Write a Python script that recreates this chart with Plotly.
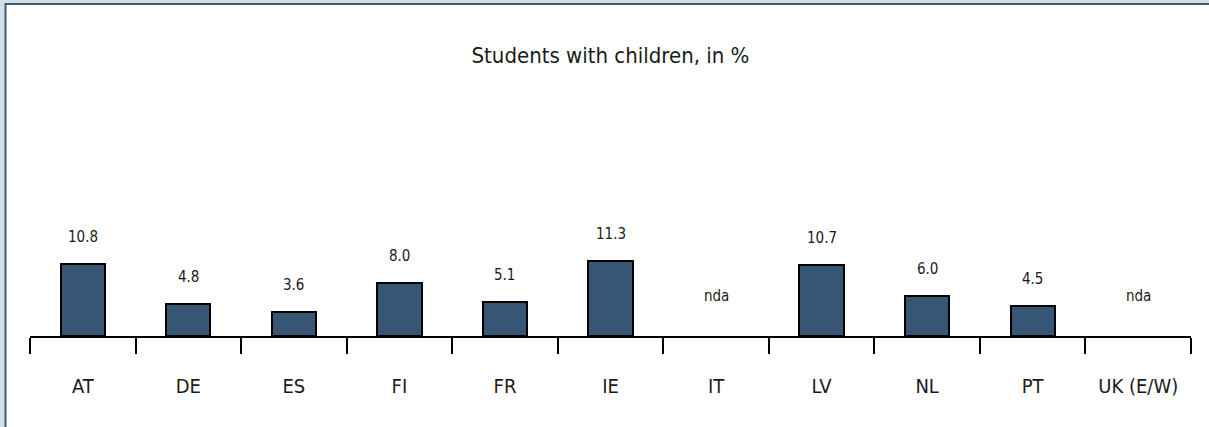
import plotly.graph_objects as go

categories = ["AT", "DE", "ES", "FI", "FR", "IE", "IT", "LV", "NL", "PT", "UK (E/W)"]
values = [10.8, 4.8, 3.6, 8.0, 5.1, 11.3, None, 10.7, 6.0, 4.5, None]
value_labels = ["10.8", "4.8", "3.6", "8.0", "5.1", "11.3", "nda", "10.7", "6.0", "4.5", "nda"]
title_text = "Students with children, in %"

FONT = "Liberation Sans Narrow, Arial Narrow, DejaVu Sans Condensed, sans-serif"

fig = go.Figure()
fig.add_trace(go.Bar(
    x=categories,
    y=values,
    width=0.42,
    marker=dict(color="#375675", line=dict(color="#000000", width=2)),
    hoverinfo="x+y",
))

for cat, v, lab in zip(categories, values, value_labels):
    if v is None:
        fig.add_annotation(x=cat, y=0, text=lab, showarrow=False, yanchor="middle",
                           yshift=40, font=dict(family=FONT, size=15, color="#1a1a1a"))
    else:
        fig.add_annotation(x=cat, y=v, text=lab, showarrow=False, yanchor="middle",
                           yshift=27, font=dict(family=FONT, size=15, color="#1a1a1a"))

# outer frame: grey page with a blue-edged white panel
fig.add_shape(type="rect", xref="paper", yref="paper",
              xsizemode="pixel", ysizemode="pixel", xanchor=0, yanchor=1,
              x0=-24.5, x1=2000, y0=92, y1=-1000,
              fillcolor="#ffffff", line=dict(color="#3c5d82", width=2), layer="below")

fig.update_layout(
    width=1209, height=427,
    margin=dict(l=30, r=18, t=96, b=91),
    paper_bgcolor="#d5dde5",
    plot_bgcolor="rgba(0,0,0,0)",
    showlegend=False,
    bargap=0,
    title=dict(text=title_text, x=0.5, xanchor="center", xref="paper",
               y=1 - 55 / 427, yanchor="middle",
               font=dict(family=FONT, size=22, color="#1a1a1a")),
    font=dict(family=FONT, color="#1a1a1a"),
    xaxis=dict(
        type="category",
        showline=True, linecolor="#000000", linewidth=1.5,
        ticks="outside", tickson="boundaries", ticklen=16, tickwidth=1.5, tickcolor="#000000",
        ticklabelstandoff=31,
        tickfont=dict(family=FONT, size=20, color="#1a1a1a"),
        showgrid=False, zeroline=False,
        range=[-0.5, len(categories) - 0.5],
    ),
    yaxis=dict(visible=False, range=[0, 36], showgrid=False, zeroline=False),
)

fig.write_html("out.html", config={"displayModeBar": False},
               post_script="document.body.style.margin='0';document.body.style.padding='0';")
